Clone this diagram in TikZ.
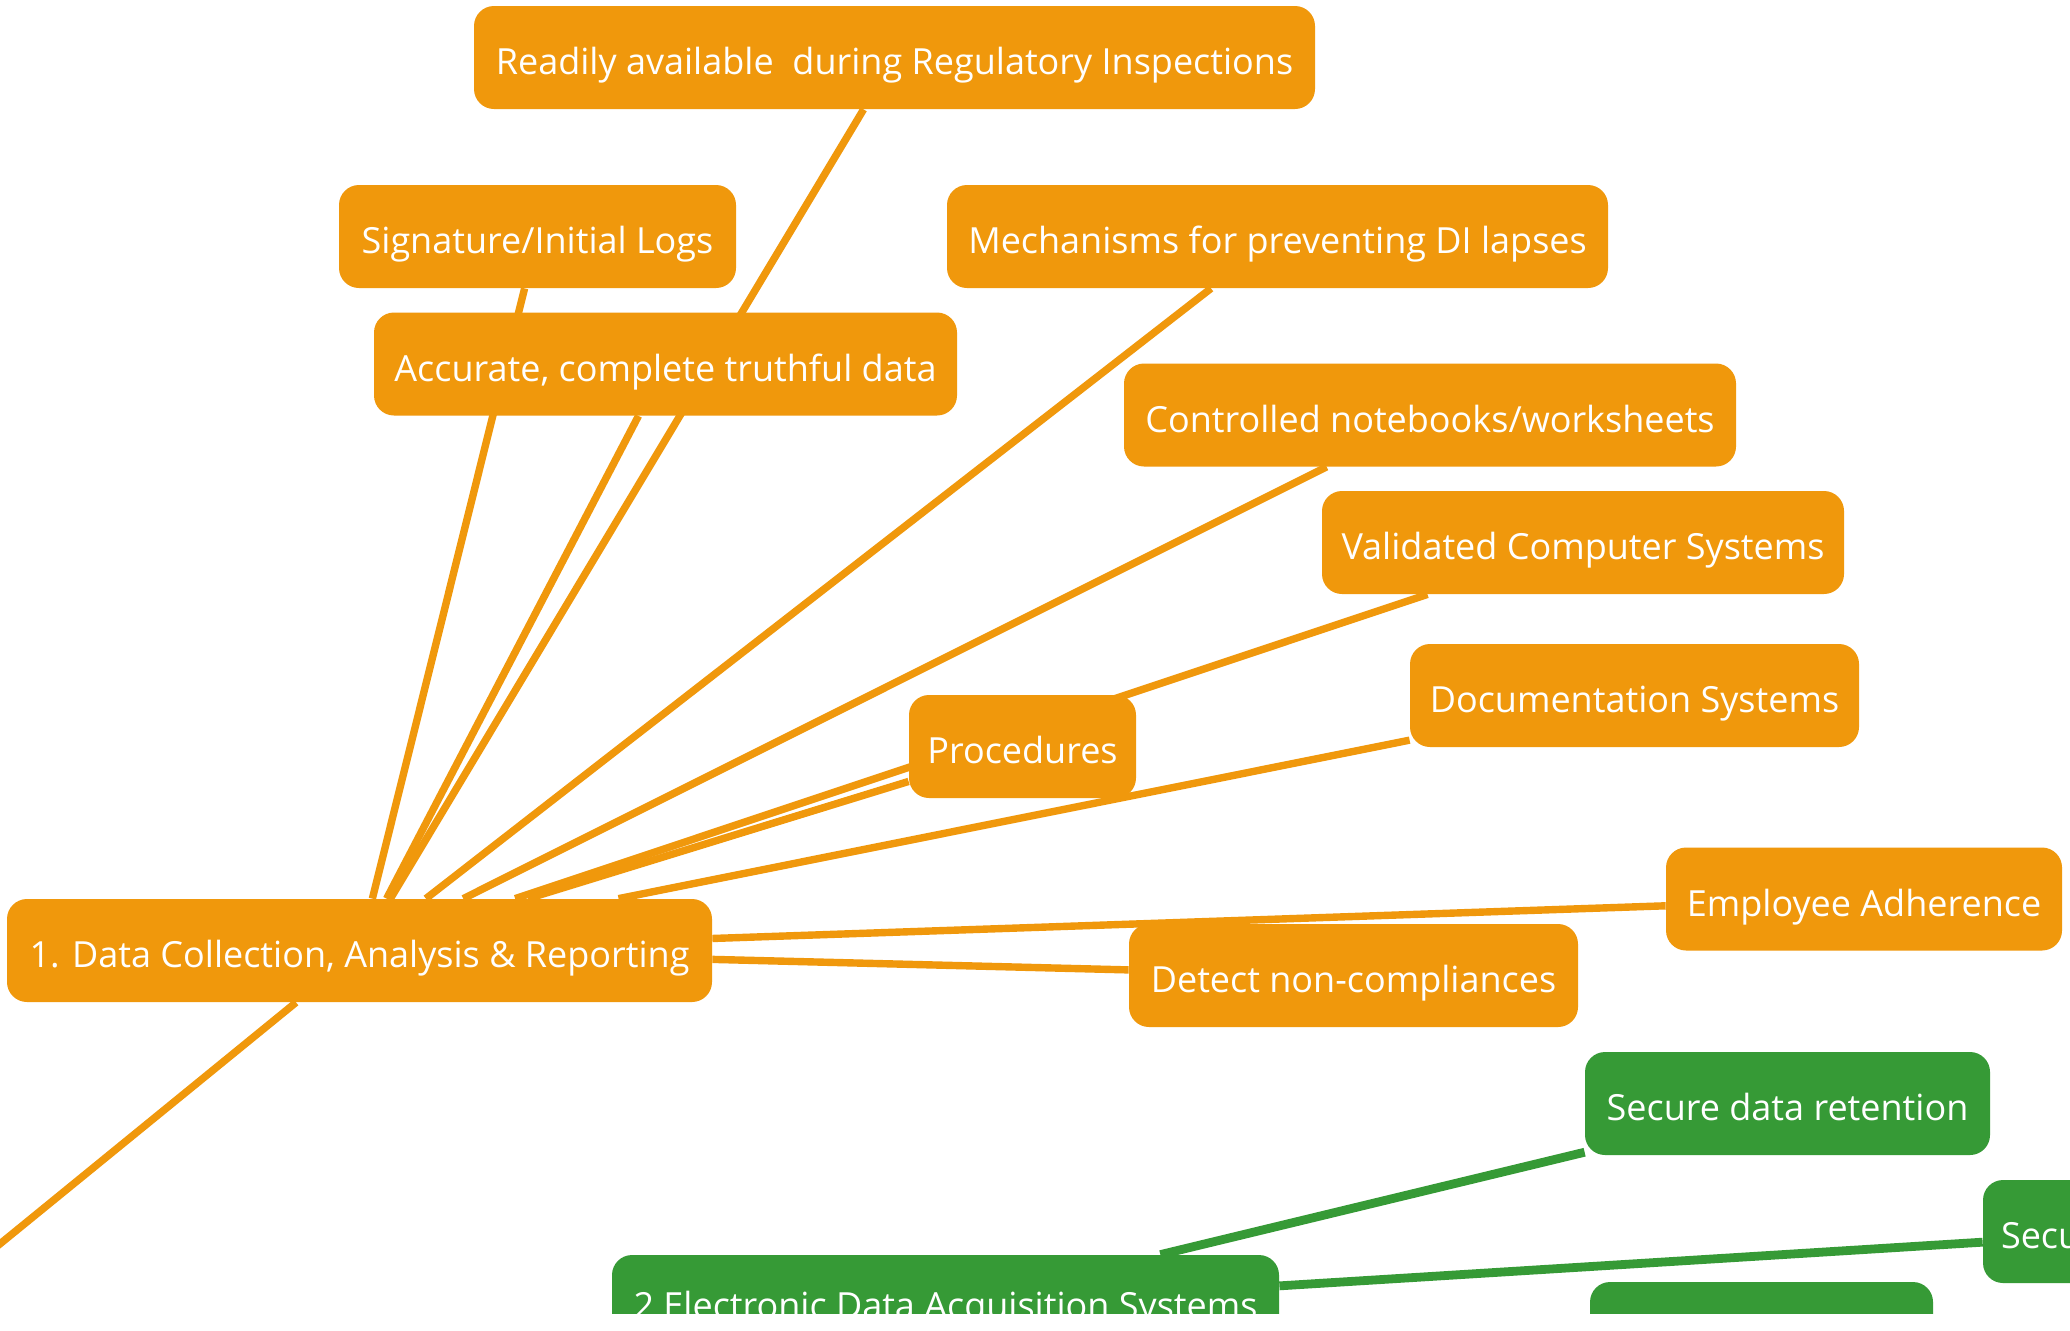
\documentclass[tikz,border=0pt]{standalone}
\usepackage{fontspec}
\setmainfont{Open Sans}
\usetikzlibrary{backgrounds}
\definecolor{mmorange}{RGB}{240,152,12}
\definecolor{mmgreen}{RGB}{54,154,54}
\tikzset{
  topic/.style={rounded corners=10pt, inner sep=0pt, minimum height=51.5pt,
    text=white, font=\fontsize{18pt}{20pt}\selectfont,
    text height=19pt, text depth=2pt, anchor=center},
  orangebox/.style={topic, fill=mmorange},
  greenbox/.style={topic, fill=mmgreen},
  orangeline/.style={draw=mmorange, line width=3.7pt},
  greenline/.style={draw=mmgreen, line width=4.4pt},
}
\begin{document}
\begin{tikzpicture}[x=0.5pt,y=-0.5pt]
\useasboundingbox (0,0) rectangle (2070,1330);
\clip (0,0) rectangle (2070,1313);
% orange branch
\node[orangebox, minimum width=420.5pt] (R) at (894.5,57.5) {Readily available\ \ during Regulatory Inspections};
\node[orangebox, minimum width=198.5pt] (S) at (537.5,236.5) {Signature/Initial Logs};
\node[orangebox, minimum width=291.5pt] (A) at (665.5,364) {Accurate, complete truthful data};
\node[orangebox, minimum width=330.5pt] (M) at (1277.5,236.5) {Mechanisms for preventing DI lapses};
\node[orangebox, minimum width=306pt] (C) at (1430,415) {Controlled notebooks/worksheets};
\node[orangebox, minimum width=261pt] (V) at (1583,542.5) {Validated Computer Systems};
\node[orangebox, minimum width=224.5pt] (D) at (1634.5,695.5) {Documentation Systems};
\node[orangebox, minimum width=113.5pt] (P) at (1022.5,746.5) {Procedures};
\node[orangebox, minimum width=198pt] (E) at (1864,899) {Employee Adherence};
\node[orangebox, minimum width=352.5pt] (H) at (359.5,950.5) {1. Data Collection, Analysis \& Reporting};
\node[orangebox, minimum width=224.5pt] (N) at (1353.5,975.5) {Detect non-compliances};
% green branch
\node[greenbox, minimum width=202.5pt] (G1) at (1787.5,1103.5) {Secure data retention};
\node[greenbox, minimum width=172pt] (G2) at (2155,1231.5) {\makebox[154pt][l]{Secu}};
\node[greenbox, minimum width=171.5pt] (G3) at (1761.5,1333.5) {};
\node[greenbox, minimum width=333.5pt, text height=13.5pt] (GH) at (945.5,1306.5) {2 Electronic Data Acquisition Systems};
\coordinate (root) at (-300,1488.5);
\begin{scope}[on background layer]
  \clip (0,0) rectangle (2070,1313);
  \fill[white] (-10,-10) rectangle (2080,1340);
  \draw[orangeline] (H) -- (root);
  \foreach \t in {R,S,A,M,C,V,D,P,E,N}
    \draw[orangeline] (H) -- (\t);
  \draw[greenline] (GH) -- (G1);
  \draw[greenline] (GH) -- (G2);
\end{scope}
\end{tikzpicture}
\end{document}
